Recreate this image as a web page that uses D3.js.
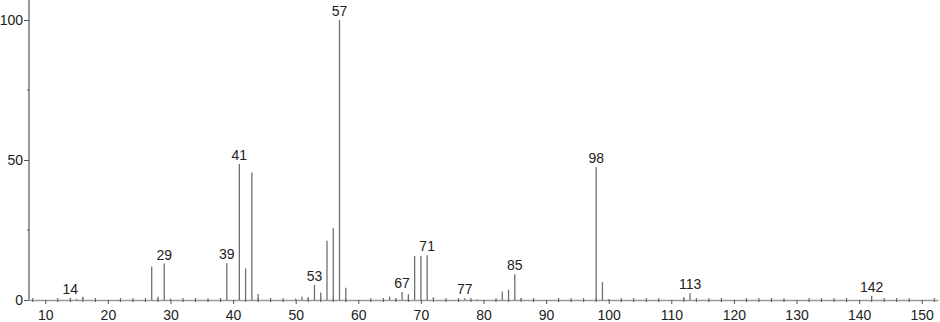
<!DOCTYPE html>
<html>
<head>
<meta charset="utf-8">
<script src="https://cdn.jsdelivr.net/npm/d3@7"></script>
<style>
  body { margin: 0; background: #fff; }
  text { font-family: "Liberation Sans", Arial, sans-serif; }
</style>
</head>
<body>
<div id="chart"></div>
<script>
// peak positions (m/z) and relative intensities
const mz =        [14, 15, 16, 27, 28, 29, 30, 39, 41, 42, 43, 44, 50, 51, 52, 53, 54, 55, 56, 57, 58,
                   65, 66, 67, 68, 69, 70, 71, 72, 77, 79, 83, 84, 85, 86, 98, 99, 100, 112, 113, 142];
const intensity = [0.7, 0.4, 1.2, 12, 1.2, 13, 0.5, 13.1, 48.6, 11.3, 45.5, 2.1, 0.5, 1.2, 1.0, 5.4, 2.7, 21.2, 25.6, 100, 4.4,
                   1.2, 0.5, 2.9, 2.1, 15.7, 15.7, 16, 1, 0.6, 0.3, 3, 3.7, 9.2, 0.5, 47.5, 6.4, 0.4, 1.0, 2.4, 1.5];
const labelled = [14, 29, 39, 41, 53, 57, 67, 71, 77, 85, 98, 113, 142];

const xTicks = [10, 20, 30, 40, 50, 60, 70, 80, 90, 100, 110, 120, 130, 140, 150];
const yTicks = [0, 50, 100];

const W = 940, H = 322;
const svg = d3.select("#chart").append("svg")
    .attr("width", W).attr("height", H);

const x = d3.scaleLinear().domain([7.4, 152.6]).range([29, 938]);
const y = d3.scaleLinear().domain([0, 100]).range([300, 20]);

const axisColor = "#9a9a9a";

// x axis
const xAxis = svg.append("g")
    .attr("transform", `translate(0,${y(0)})`)
    .call(d3.axisBottom(x).tickValues(xTicks).tickSize(4).tickSizeOuter(0).tickPadding(6));
xAxis.select(".domain").attr("stroke", axisColor).attr("stroke-width", 1.5);
xAxis.selectAll(".tick line").attr("stroke", "#555");
xAxis.selectAll(".tick text")
    .style("font-size", "14px").style("fill", "#222");

// minor x ticks every 2 units
svg.append("g").selectAll("line")
  .data(d3.range(8, 153, 2).filter(v => v % 10 !== 0))
  .join("line")
    .attr("x1", d => x(d)).attr("x2", d => x(d))
    .attr("y1", y(0) - 2).attr("y2", y(0) + 2)
    .attr("stroke", "#555");

// y axis
const yAxis = svg.append("g")
    .attr("transform", `translate(${x.range()[0]},0)`)
    .call(d3.axisLeft(y).tickValues(yTicks).tickSize(5).tickSizeOuter(0).tickPadding(1));
yAxis.select(".domain").attr("stroke", axisColor).attr("stroke-width", 2)
    .attr("d", `M0,${y(0)}V0`);
yAxis.selectAll(".tick line").attr("stroke", "#555");
yAxis.selectAll(".tick text")
    .style("font-size", "14px").style("fill", "#222");

// minor y ticks
svg.append("g").selectAll("line")
  .data([25, 75])
  .join("line")
    .attr("x1", x.range()[0] - 2).attr("x2", x.range()[0])
    .attr("y1", d => y(d)).attr("y2", d => y(d))
    .attr("stroke", "#555");

// peaks
svg.append("g").selectAll("line")
  .data(mz.map((m, i) => ({ m, v: intensity[i] })))
  .join("line")
    .attr("x1", d => x(d.m)).attr("x2", d => x(d.m))
    .attr("y1", y(0)).attr("y2", d => y(d.v))
    .attr("stroke", "#707070")
    .attr("stroke-width", 1.3);

// peak labels
svg.append("g").selectAll("text")
  .data(labelled.map(m => ({ m, v: intensity[mz.indexOf(m)] })))
  .join("text")
    .attr("x", d => x(d.m))
    .attr("y", d => y(d.v) - 4)
    .attr("text-anchor", "middle")
    .style("font-size", "14px")
    .style("fill", "#222")
    .text(d => d.m);
</script>
</body>
</html>
